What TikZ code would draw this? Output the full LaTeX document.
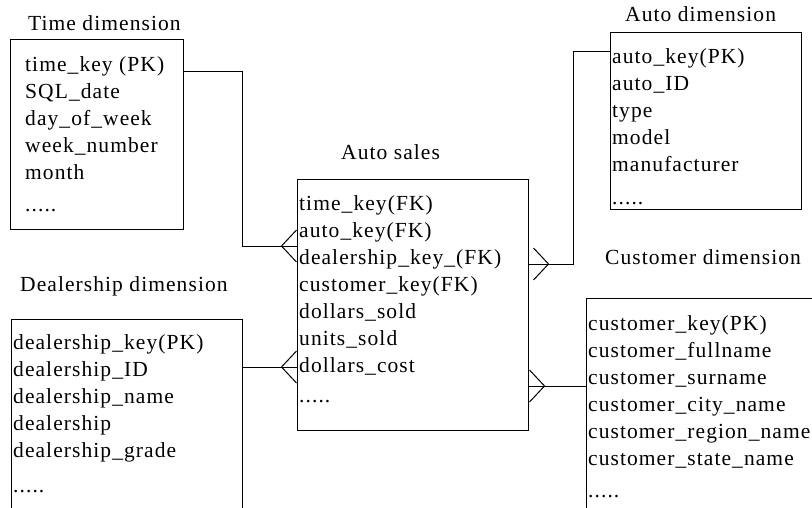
\documentclass[tikz,border=0pt]{standalone}
\usepackage{fontspec}
\setmainfont{Liberation Serif}[LetterSpace=5]
\usetikzlibrary{positioning, arrows.meta}

\tikzstyle{entity} = [rectangle, draw=black, line width=1pt, inner sep=0pt, anchor=north west]
\tikzstyle{fields} = [align=left, inner sep=0pt, anchor=north west, font=\fontsize{21.5}{27}\selectfont]
\tikzstyle{etitle} = [inner sep=0pt, anchor=base west, font=\fontsize{21.5}{27}\selectfont]
\tikzstyle{link} = [line width=1pt]
\tikzstyle{crow} = [line width=1pt, -{Straight Barb[reversed, length=15pt, width=32pt, line width=1pt]}]

\begin{document}
\begin{tikzpicture}[x=1pt, y=1pt]
\useasboundingbox (0,0) rectangle (812,-508);

% boxes
\node (time) [entity, minimum width=173pt, minimum height=190pt] at (10,-39) {};
\node (sales) [entity, minimum width=231pt, minimum height=251pt] at (297,-179) {};
\node (auto) [entity, minimum width=191pt, minimum height=177pt] at (610,-32) {};
\node (deal) [entity, minimum width=231pt, minimum height=220pt] at (11,-319) {};
\node (cust) [entity, minimum width=250pt, minimum height=240pt] at (586,-298) {};

% titles
\node (timet) [etitle] at (28,-31) {Time dimension};
\node (salest) [etitle] at (341,-160) {Auto sales};
\node (autot) [etitle] at (625,-22) {Auto dimension};
\node (dealt) [etitle] at (20,-291) {Dealership dimension};
\node (custt) [etitle] at (605,-265) {Customer dimension};

% fields
\node (timef) [fields, below right=17pt and 15pt of time.north west, anchor=north west] {time\_key (PK)\\SQL\_date\\day\_of\_week\\week\_number\\month\\[5pt].....};
\node (salesf) [fields, below right=16pt and 2pt of sales.north west, anchor=north west] {time\_key(FK)\\auto\_key(FK)\\dealership\_key\_(FK)\\customer\_key(FK)\\dollars\_sold\\units\_sold\\dollars\_cost\\[3pt].....};
\node (autof) [fields, below right=16pt and 2pt of auto.north west, anchor=north west] {auto\_key(PK)\\auto\_ID\\type\\model\\manufacturer\\[6pt].....};
\node (dealf) [fields, below right=15pt and 2pt of deal.north west, anchor=north west] {dealership\_key(PK)\\dealership\_ID\\dealership\_name\\dealership\\dealership\_grade\\[8pt].....};
\node (custf) [fields, below right=17pt and 2pt of cust.north west, anchor=north west] {customer\_key(PK)\\customer\_fullname\\customer\_surname\\customer\_city\_name\\customer\_region\_name\\customer\_state\_name\\[5pt].....};

% links
\draw [link] ([yshift=-33pt]time.north east) -- ++(58pt,0) |- ([yshift=-67pt]sales.north west);
\draw [link] ([yshift=-20pt]auto.north west) -- ++(-37pt,0) |- ([yshift=-85pt]sales.north east);
\draw [link] ([yshift=-48pt]deal.north east) -- ([yshift=-188pt]sales.north west);
\draw [link] ([yshift=-88pt]cust.north west) -- ([yshift=-207pt]sales.north east);

% crow's feet
\draw [crow] ([xshift=-15pt,yshift=-67pt]sales.north west) -- ([yshift=-67pt]sales.north west);
\draw [crow] ([xshift=19pt,yshift=-85pt]sales.north east) -- ([xshift=4pt,yshift=-85pt]sales.north east);
\draw [crow] ([xshift=-20pt,yshift=-188pt]sales.north west) -- ([yshift=-188pt]sales.north west);
\draw [crow] ([xshift=15pt,yshift=-207pt]sales.north east) -- ([yshift=-207pt]sales.north east);

\end{tikzpicture}
\end{document}
